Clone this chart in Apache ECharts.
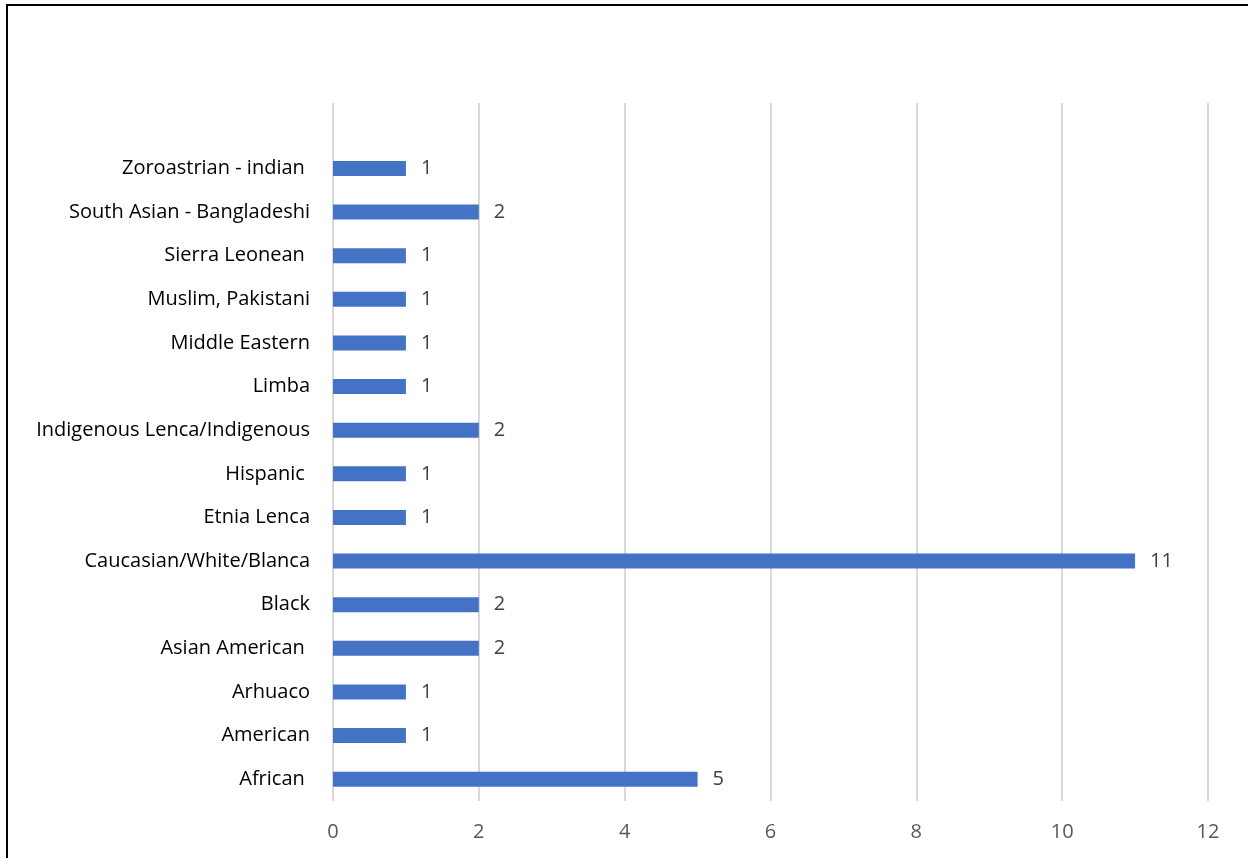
<!DOCTYPE html>
<html><head><meta charset="utf-8">
<script src="https://cdn.jsdelivr.net/npm/echarts@6/dist/echarts.min.js"></script>
<style>
html,body{margin:0;padding:0;background:#fff;overflow:hidden}
#frame{position:absolute;left:6px;top:4px;width:1260px;height:880px;border-left:2px solid #000;border-top:2px solid #000}
#c{position:absolute;left:0;top:0;width:1248px;height:858px}
</style></head><body>
<div id="frame"></div>
<div id="c"></div>
<script>
const categories = ['African ', 'American', 'Arhuaco', 'Asian American ', 'Black', 'Caucasian/White/Blanca', 'Etnia Lenca', 'Hispanic ', 'Indigenous Lenca/Indigenous', 'Limba', 'Middle Eastern', 'Muslim, Pakistani', 'Sierra Leonean ', 'South Asian - Bangladeshi', 'Zoroastrian - indian ', ''];
const values = [5, 1, 1, 2, 2, 11, 1, 1, 2, 1, 1, 1, 1, 2, 1, null];
const xTicks = [0, 2, 4, 6, 8, 10, 12];

const chart = echarts.init(document.getElementById('c'), null, {renderer: 'canvas'});
const font = '"Open Sans", sans-serif';
chart.setOption({
  animation: false,
  grid: {left: 333, right: 40, top: 103, bottom: 57, containLabel: false},
  xAxis: {
    type: 'value', min: xTicks[0], max: xTicks[xTicks.length - 1], interval: 2,
    axisLine: {show: false}, axisTick: {show: false},
    splitLine: {show: true, lineStyle: {color: '#d9d9d9', width: 2}},
    axisLabel: {color: '#595959', fontSize: 20, fontFamily: font, margin: 21}
  },
  yAxis: {
    type: 'category', data: categories,
    axisLine: {show: false}, axisTick: {show: false},
    axisLabel: {color: '#000', fontSize: 20, fontFamily: font, margin: 23}
  },
  series: [{
    type: 'bar', data: values, barWidth: 15,
    itemStyle: {color: '#4472C4'},
    label: {show: true, position: 'right', distance: 15, color: '#404040', fontSize: 20, fontFamily: font}
  }]
});
</script></body></html>
